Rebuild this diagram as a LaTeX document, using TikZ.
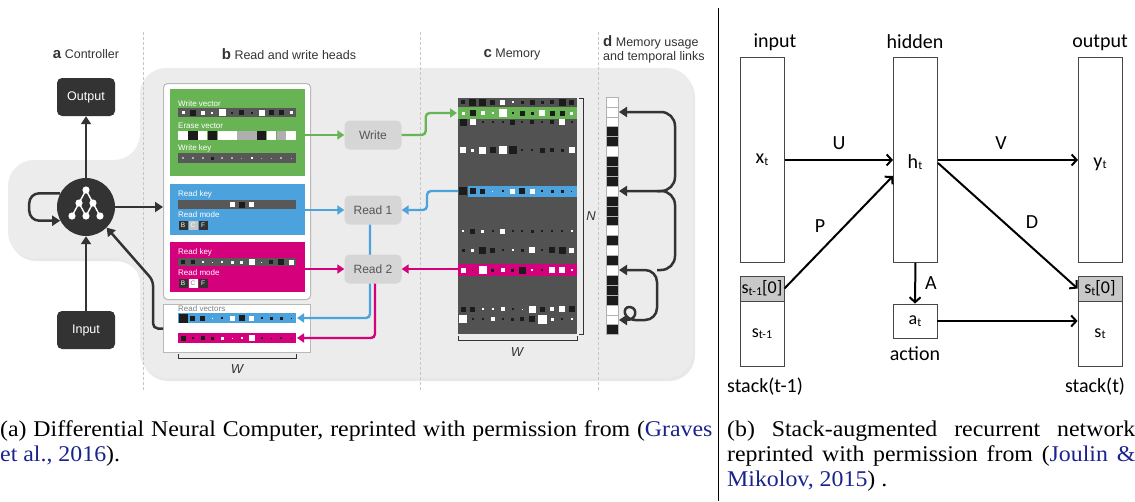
\documentclass[tikz,border=0pt]{standalone}
\usepackage{fontspec}
\setmainfont{Liberation Serif}
\newfontfamily\dncfont{Liberation Sans}
\newfontfamily\srnfont{Carlito}
\usetikzlibrary{arrows.meta,positioning}

\definecolor{ctrl}{RGB}{51,51,51}
\definecolor{groundgray}{RGB}{236,236,236}
\definecolor{headgray}{RGB}{214,214,214}
\definecolor{headtext}{RGB}{85,85,85}
\definecolor{memgray}{RGB}{82,82,82}
\definecolor{bargray}{RGB}{88,88,88}
\definecolor{wgreen}{RGB}{104,180,84}
\definecolor{rblue}{RGB}{76,162,220}
\definecolor{rmag}{RGB}{212,0,124}
\definecolor{sqW}{RGB}{255,255,255}
\definecolor{sqB}{RGB}{28,28,28}
\definecolor{sqG}{RGB}{175,175,175}
\definecolor{citeblue}{RGB}{25,35,140}
\definecolor{boxline}{RGB}{70,70,70}
\definecolor{stackgray}{RGB}{200,200,200}

\newcommand{\dncsize}[1]{\dncfont\fontsize{#1}{#1}\selectfont}
\newcommand{\srnsize}[1]{\srnfont\fontsize{#1}{#1}\selectfont}
\newcommand{\plabel}[1]{{\fontsize{15}{15}\selectfont\bfseries #1}}
\newcommand{\idx}[1]{\raisebox{-1.5pt}{\fontsize{12}{12}\selectfont #1}}
\newcommand{\capline}[2]{\scalebox{1.06}[1]{\makebox[#1][s]{#2}}}
% one row of squares: x of first centre, y, pitch, size/colour list
\newcommand{\cellrow}[4]{%
  \foreach \s/\c [count=\i from 0] in {#4}
    \fill[sq\c] ({#1+\i*#3-\s/2},{#2-\s/2}) rectangle ++(\s,\s);}

\begin{document}
\begin{tikzpicture}[x=1pt, y=-1pt, every node/.style={inner sep=0pt}]
	\tikzstyle{Title}	= [font=\dncsize{12.5}, text=ctrl]
	\tikzstyle{Dark}	= [rectangle, rounded corners=5pt, fill=ctrl, text=white, minimum width=58pt, minimum height=38pt, font=\dncsize{12.5}]
	\tikzstyle{Head}	= [rectangle, rounded corners=5pt, fill=headgray, text=headtext, minimum width=57pt, minimum height=29pt, font=\dncsize{12}]
	\tikzstyle{Panel}	= [rectangle, minimum width=135pt, anchor=north west]
	\tikzstyle{Frame}	= [rectangle, draw=gray!55, line width=1pt, fill=white, minimum width=147pt, anchor=north west]
	\tikzstyle{Tiny}	= [font=\dncsize{8}, text=white, anchor=west]
	\tikzstyle{Mode}	= [rectangle, minimum size=9pt, font=\dncsize{6.5}, text=white, fill=ctrl]
	\tikzstyle{Flow}	= [line width=2.4pt, rounded corners=4pt, -{Triangle[length=7pt,width=9pt]}]
	\tikzstyle{Link}	= [line width=2.5pt, ctrl, -{Triangle[length=8pt,width=10pt]}]
	\tikzstyle{Sep}		= [gray!45, dash pattern=on 3pt off 2pt, line width=0.8pt]
	\tikzstyle{Layer}	= [rectangle, draw=boxline, line width=0.9pt, fill=white, minimum width=44pt, font=\srnsize{18}]
	\tikzstyle{Weight}	= [line width=2pt, -{Straight Barb[length=5pt,width=11pt]}]
	\tikzstyle{Sym}		= [font=\srnsize{20}]
	\tikzstyle{Cap}		= [anchor=base west, font=\fontsize{22.5}{25}\selectfont]

	\useasboundingbox (0,0) rectangle (1135,501);

	% grey ground behind the DNC
	\fill[black!9, rounded corners=26pt, shift={(2,3)}] (140,68) -- (693,68) -- (693,378) -- (140,378) -- (140,258) -- (8,258) -- (8,160) -- (140,160) -- cycle;
	\fill[groundgray, rounded corners=26pt] (140,68) -- (693,68) -- (693,378) -- (140,378) -- (140,258) -- (8,258) -- (8,160) -- (140,160) -- cycle;
	\foreach \x in {143, 420, 598}
		\draw[Sep] (\x,32) -- (\x,392);

	\node (tA) at (86,54) [Title] {\plabel{a} Controller};
	\node (tB) at (289,54) [Title] {\plabel{b} Read and write heads};
	\node (tC) at (512,54) [Title] {\plabel{c} Memory};
	\node (tD) at (603,49) [Title, anchor=west, align=left] {\plabel{d} Memory usage\\[1.5pt]and temporal links};

	% controller
	\node (out) at (86,97) [Dark] {Output};
	\node (ctrl) at (86,207) [circle, fill=ctrl, minimum size=58pt] {};
	\node (in) at (86,330) [Dark] {Input};
	\draw[white, line width=1.4pt] (86,190) -- (79,203) -- (72,216) (86,190) -- (93,203) -- (100,216) (79,203) -- (86,216) -- (93,203);
	\foreach \x/\y in {86/190, 79/203, 93/203, 72/216, 86/216, 100/216}
		\fill[white] (\x,\y) circle (3.6);
	\draw[Link] (ctrl) -- (out);
	\draw[Link] (in) -- (ctrl);
	\draw[Link, rounded corners=10pt] (ctrl.152) -- ++(-31,0) |- (ctrl.208);

	% read and write heads
	\node (heads) at (163,83) [Frame, rounded corners=4pt, minimum height=216pt] {};
	\node (wr) at (170,89) [Panel, fill=wgreen, minimum height=87pt] {};
	\node (r1) at (170,184) [Panel, fill=rblue, minimum height=51pt] {};
	\node (r2) at (170,242) [Panel, fill=rmag, minimum height=50pt] {};
	\draw[Link] (ctrl.east) -- (heads.west |- ctrl.east);

	\node (wvec) at (178,104) [Tiny] {Write vector};
	\fill[bargray] (178,108) rectangle (296,117);
	\cellrow{183}{112.5}{9.83}{3/W,6/B,4/W,2/W,7/W,2/B,5/B,2/B,6/W,5/B,5/B,3/W}
	\node (evec) at (178,126) [Tiny] {Erase vector};
	\cellrow{183}{135.5}{9.83}{9.4/W,9.4/B,9.4/W,9.4/B,9.4/W,9.4/W,9.4/G,9.4/G,9.4/B,9.4/W,9.4/G,9.4/W}
	\node (wkey) at (178,148) [Tiny] {Write key};
	\fill[bargray] (178,153) rectangle (296,163);
	\cellrow{183}{158}{9.83}{2/G,2/G,2/G,3/B,2/G,2/G,1/G,2/W,1/G,1/G,2/G,1/G}

	\node (rkey1) at (178,194) [Tiny] {Read key};
	\fill[bargray] (178,200) rectangle (296,209);
	\cellrow{183}{204.5}{9.83}{0/W,0/W,0/W,0/W,0/W,5/W,6/B,5/W,0/W,0/W,0/W,0/W}
	\node (rmode1) at (178,215) [Tiny] {Read mode};
	\node (mB1) at (183,225) [Mode] {B};
	\node (mC1) at (193,225) [Mode, fill=gray!45] {C};
	\node (mF1) at (203,225) [Mode] {F};

	\node (rkey2) at (178,252) [Tiny] {Read key};
	\fill[bargray] (178,258) rectangle (296,266);
	\cellrow{183}{262}{9.83}{4/B,4/B,2/W,1/W,2/W,3/W,3/W,6/W,1/W,4/B,6/B,5/W}
	\node (rmode2) at (178,273) [Tiny] {Read mode};
	\node (mB2) at (183,283) [Mode] {B};
	\node (mC2) at (193,283) [Mode, fill=white, text=gray] {C};
	\node (mF2) at (203,283) [Mode] {F};

	\node (rv) at (163,304) [Frame, minimum height=48pt] {};
	\node (rvlab) at (178,309) [Tiny, text=gray] {Read vectors};
	\fill[rblue] (178,313) rectangle (296,323);
	\cellrow{183}{318}{9.83}{9/B,5/B,5/B,1/W,2/B,5/W,6/B,5/W,2/B,3/B,3/B,1/B}
	\fill[rmag] (178,333) rectangle (296,343);
	\cellrow{183}{338}{9.83}{5/B,2/B,4/B,3/B,3/W,1/W,2/W,6/W,2/B,1/B,2/B,1/B}
	\coordinate (rvb) at (297,318);
	\coordinate (rvm) at (297,338);
	\draw[ctrl, line width=1pt] (178,354) -- (178,358) -- (296,358) -- (296,354);
	\node (wA) at (237,369) [Title, font=\dncsize{13}\itshape] {W};
	\draw[Link, rounded corners=5pt] (rv.west) -- ++(-10,0) -- ++(0,-48) -- (ctrl.-45);

	\node (write) at (373,135) [Head] {Write};
	\node (read1) at (373,210) [Head] {Read 1};
	\draw[Flow, rblue] ([xshift=-3pt]read1.south) |- (rvb);
	\node (read2) at (373,269) [Head] {Read 2};
	\draw[Flow, rmag] ([xshift=2pt]read2.south) |- (rvm);
	\draw[Flow, wgreen] (wr.east |- write.west) -- (write.west);
	\draw[Flow, rblue] (r1.east |- read1.west) -- (read1.west);
	\draw[Flow, rmag] (r2.east |- read2.west) -- (read2.west);

	% memory
	\node (mem) at (458,98) [rectangle, fill=memgray, minimum width=119pt, minimum height=236pt, anchor=north west] {};
	\fill[wgreen] (458,107) rectangle (577,119);
	\fill[rblue] (468,186) rectangle (577,197);
	\fill[rmag] (458,264) rectangle (577,276);
	\cellrow{463}{102}{9.9}{4/B,7/B,7/B,5/B,5/W,2/W,3/B,5/B,3/B,4/B,7/B,5/B}
	\cellrow{463}{113}{9.9}{3/W,6/B,4/W,2/W,8/W,2/B,5/B,3/B,6/W,5/B,5/B,3/W}
	\cellrow{463}{122}{9.9}{7/B,6/W,2/B,2/B,2/B,5/B,2/B,4/B,2/B,4/B,6/W,2/B}
	\cellrow{463}{150}{9.9}{6/W,3/W,7/W,6/B,8/W,8/B,2/B,2/B,5/B,4/B,3/B,6/W}
	\cellrow{463}{191}{9.9}{8/B,6/B,5/B,1/W,2/B,5/W,6/B,5/W,2/B,3/B,3/B,1/B}
	\cellrow{463}{231}{9.9}{2/W,5/B,3/W,2/B,5/W,2/B,2/B,3/B,2/B,2/B,2/B,2/W}
	\cellrow{463}{250}{9.9}{3/B,3/W,7/B,5/B,2/B,2/W,3/B,6/W,2/B,6/B,7/B,5/W}
	\cellrow{463}{270}{9.9}{5/W,1/B,8/W,3/B,4/W,3/B,7/B,2/W,2/B,6/W,6/W,2/W}
	\cellrow{463}{309}{9.9}{5/B,5/B,2/W,2/W,4/W,2/B,1/W,7/W,5/B,4/W,6/W,6/B}
	\cellrow{463}{319}{9.9}{8/W,2/B,2/B,4/W,2/B,3/B,4/B,6/B,9/W,3/W,2/B,2/W}
	\coordinate (mgreen) at (457,113);
	\coordinate (mblue) at (458,191);
	\coordinate (mmag) at (458,269);
	\draw[Flow, wgreen] (write.east) -- ++(24,0) |- (mgreen);
	\draw[Flow, rblue] (mblue) -- ++(-31,0) |- (read1.east);
	\draw[Flow, rmag] (mmag) -- (read2.east);
	\draw[ctrl, line width=1pt] (579,98) -- (583,98) -- (583,334) -- (579,334);
	\node (nN) at (591,216) [Title, font=\dncsize{13}\itshape] {N};
	\draw[ctrl, line width=1pt] (458,336) -- (458,340) -- (577,340) -- (577,336);
	\node (wC) at (517,352) [Title, font=\dncsize{13}\itshape] {W};

	% memory usage and temporal links
	\foreach \c [count=\i from 0] in {W,W,W,B,B,W,B,B,B,W,B,B,B,W,B,W,B,W,B,B,B,W,W,B}
		\filldraw[fill=sq\c, draw=gray!60, line width=0.6pt] (606,{97+\i*9.9}) rectangle ++(12,9.9);
	\coordinate (u1) at (619,112);
	\coordinate (u9) at (619,191);
	\coordinate (u17) at (619,270);
	\coordinate (u22) at (619,320);
	\coordinate (c22) at (638,320);
	\draw[Link, rounded corners=14pt] (657,191) -- (675,191) -- (675,112) -- (u1);
	\draw[Link, rounded corners=14pt] (657,270) -- (675,270) -- (675,191) -- (u9);
	\draw[Link, rounded corners=12pt] (c22) -- (657,320) -- (657,270) -- (u17);
	\draw[Link] (c22) .. controls (622,321) and (622,306) .. (630,307) .. controls (638,308) and (637,320) .. (u22);

	% stack-augmented network
	\draw[line width=1pt] (718,8) -- (718,501);
	\node (x) at (740,57) [Layer, minimum height=205pt, anchor=north west] {};
	\node (h) at (893,57) [Layer, minimum height=205pt, anchor=north west] {};
	\node (y) at (1078,57) [Layer, minimum height=205pt, anchor=north west] {};
	\node (lin) at (775,42) [Sym] {input};
	\node (lhid) at (915,42) [Sym] {hidden};
	\node (lout) at (1100,43) [Sym] {output};
	\node (xt) at (762,160) [Sym] {x\idx{t}};
	\node (ht) at (915,162) [Sym] {h\idx{t}};
	\node (yt) at (1100,164) [Sym] {y\idx{t}};
	\node (sp0) at (762,288.5) [Layer, fill=stackgray, minimum height=25pt] {s\idx{t-1}[0]};
	\node (sp1) at (762,333.5) [Layer, minimum height=65pt] {s\idx{t-1}};
	\node (st0) at (1100,288.5) [Layer, fill=stackgray, minimum height=25pt] {s\idx{t}[0]};
	\node (st1) at (1100,333.5) [Layer, minimum height=65pt] {s\idx{t}};
	\node (act) at (915,321) [Layer, minimum height=34pt] {a\idx{t}};
	\node (lact) at (915,354) [Sym] {action};
	\node (lsp) at (765,387) [Sym] {stack(t-1)};
	\node (lst) at (1095,387) [Sym] {stack(t)};

	\draw[Weight] (x.east) -- (h.west) node [midway, above=9pt, Sym] (lU) {U};
	\draw[Weight] (h.east) -- (y.west) node [midway, above=9pt, xshift=-7pt, Sym] (lV) {V};
	\draw[Weight] (sp0.east) -- ([yshift=-16pt]h.west);
	\node (lP) at (820,226) [Sym] {P};
	\draw[Weight] ([yshift=-3pt]h.east) -- (st0.west);
	\node (lD) at (1032,222) [Sym] {D};
	\draw[Weight] (h.south) -- (act.north) node [midway, right=9pt, Sym] (lA) {A};
	\draw[Weight] (act.east) -- (st1.west |- act.east);

	% captions
	\node (capA1) at (0,436) [Cap] {\capline{672pt}{(a) Differential Neural Computer, reprinted with permission from (\textcolor{citeblue}{Graves}}};
	\node (capA2) at (0,461) [Cap] {\scalebox{1.06}[1]{\textcolor{citeblue}{et al., 2016}).}};
	\node (capB1) at (727,436) [Cap] {\capline{385pt}{(b) Stack-augmented recurrent network}};
	\node (capB2) at (727,461) [Cap] {\capline{385pt}{reprinted with permission from (\textcolor{citeblue}{Joulin \&}}};
	\node (capB3) at (727,486) [Cap] {\scalebox{1.06}[1]{\textcolor{citeblue}{Mikolov, 2015}) .}};
\end{tikzpicture}
\end{document}
